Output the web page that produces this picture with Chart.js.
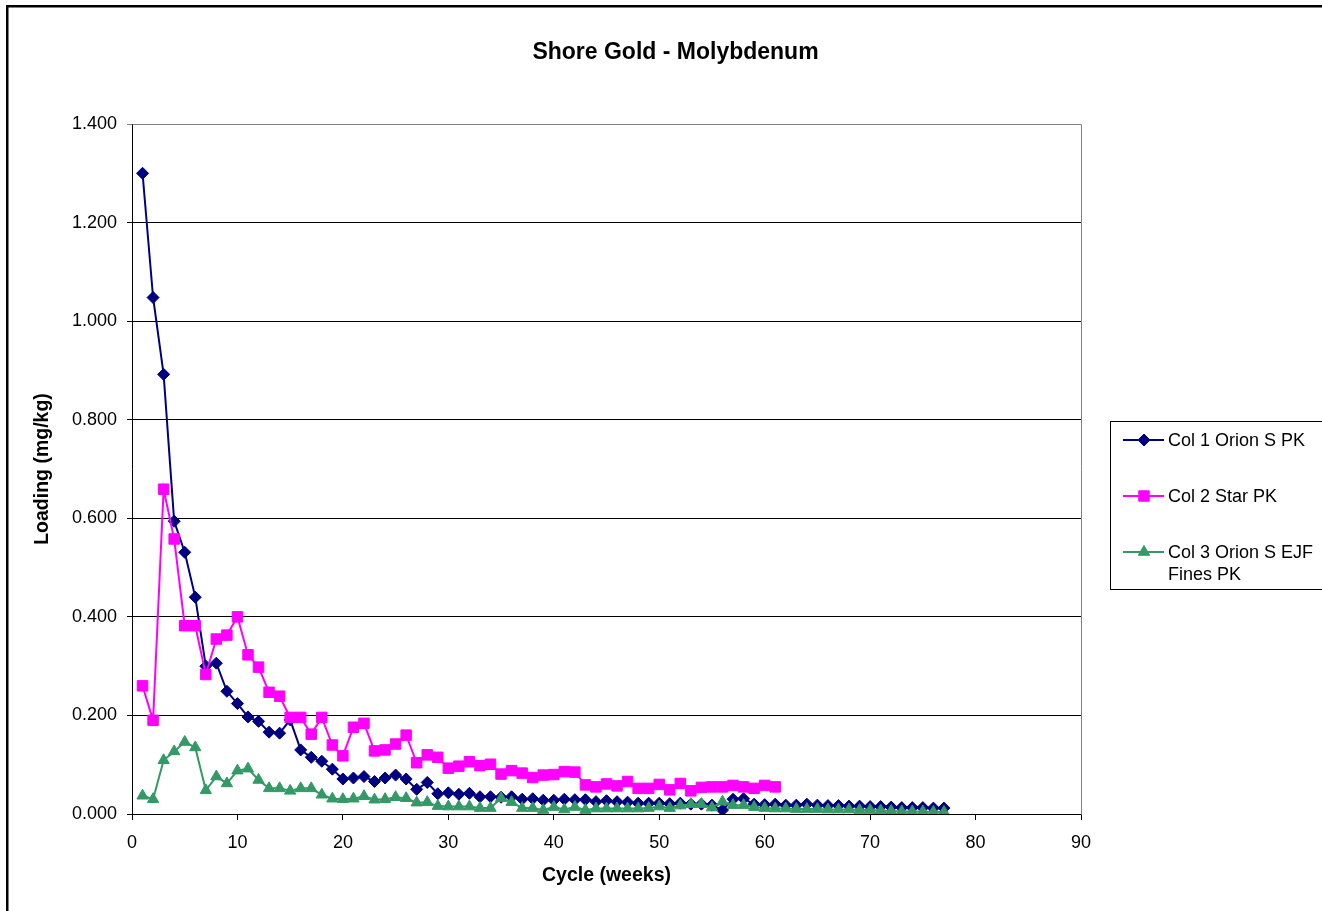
<!DOCTYPE html>
<html>
<head>
<meta charset="utf-8">
<style>
  html, body { margin: 0; padding: 0; background: #ffffff; }
  #wrap { position: relative; width: 1322px; height: 911px; }
  canvas { display: block; }
</style>
<script src="https://cdn.jsdelivr.net/npm/chart.js@4/dist/chart.umd.min.js"></script>
</head>
<body>
<div id="wrap"><canvas id="c" width="1322" height="911"></canvas></div>
<script>
const chartTitle = 'Shore Gold - Molybdenum';
const xTitle = 'Cycle (weeks)';
const yTitle = 'Loading (mg/kg)';
const seriesNames = ['Col 1 Orion S PK', 'Col 2 Star PK', 'Col 3 Orion S EJF Fines PK'];

const cycles = [1,2,3,4,5,6,7,8,9,10,11,12,13,14,15,16,17,18,19,20,
  21,22,23,24,25,26,27,28,29,30,31,32,33,34,35,36,37,38,39,40,
  41,42,43,44,45,46,47,48,49,50,51,52,53,54,55,56,57,58,59,60,
  61,62,63,64,65,66,67,68,69,70,71,72,73,74,75,76,77];

const col1Orion = [1.300,1.048,0.892,0.594,0.531,0.440,0.300,0.306,0.249,0.224,
  0.197,0.188,0.166,0.164,0.191,0.130,0.115,0.107,0.091,0.071,
  0.073,0.076,0.066,0.073,0.079,0.071,0.050,0.064,0.041,0.043,
  0.040,0.042,0.035,0.035,0.034,0.035,0.030,0.031,0.028,0.028,
  0.030,0.029,0.029,0.025,0.027,0.025,0.024,0.022,0.022,0.022,
  0.021,0.022,0.020,0.020,0.018,0.008,0.030,0.031,0.020,0.019,
  0.020,0.018,0.018,0.020,0.018,0.017,0.017,0.016,0.016,0.015,
  0.015,0.014,0.013,0.013,0.013,0.012,0.012];

const col2Star = [0.260,0.190,0.659,0.558,0.382,0.382,0.283,0.355,0.363,0.400,
  0.323,0.298,0.247,0.239,0.196,0.196,0.162,0.196,0.140,0.118,
  0.176,0.184,0.128,0.130,0.142,0.160,0.104,0.120,0.115,0.093,
  0.097,0.106,0.098,0.101,0.081,0.088,0.083,0.074,0.079,0.080,
  0.086,0.085,0.059,0.055,0.061,0.057,0.066,0.052,0.052,0.060,
  0.049,0.062,0.047,0.054,0.055,0.055,0.058,0.055,0.052,0.058,
  0.055];

const col3Fines = [0.037,0.030,0.109,0.127,0.146,0.135,0.048,0.076,0.062,0.088,
  0.092,0.069,0.052,0.052,0.047,0.052,0.052,0.039,0.031,0.030,
  0.031,0.036,0.029,0.030,0.034,0.032,0.023,0.024,0.016,0.015,
  0.015,0.015,0.012,0.012,0.032,0.024,0.012,0.012,0.008,0.014,
  0.009,0.014,0.008,0.011,0.011,0.011,0.011,0.011,0.012,0.015,
  0.012,0.017,0.020,0.020,0.013,0.025,0.018,0.018,0.014,0.012,
  0.011,0.011,0.010,0.010,0.010,0.009,0.009,0.009,0.008,0.008,
  0.007,0.006,0.005,0.005,0.005,0.004,0.004];

const xTicks = [0,10,20,30,40,50,60,70,80,90];
const yTicks = [0,0.2,0.4,0.6,0.8,1.0,1.2,1.4];

const colors = ['#000080', '#FF00FF', '#339966'];
const pointStyles = ['rectRot', 'rect', 'triangle'];
const pointRadii = [6, 7.4, 6.5];

function toPoints(values) {
  return values.map((v, i) => ({ x: cycles[i], y: v }));
}

const FONT = "'Liberation Sans', Arial, sans-serif";

function drawMarker(ctx, style, r, x, y) {
  if (style === 'rectRot') {
    ctx.moveTo(x, y - r); ctx.lineTo(x + r, y); ctx.lineTo(x, y + r); ctx.lineTo(x - r, y); ctx.closePath();
  } else if (style === 'rect') {
    const s = r * Math.SQRT1_2;
    ctx.rect(x - s, y - s, 2 * s, 2 * s);
  } else {
    ctx.moveTo(x, y - r);
    ctx.lineTo(x + r * Math.sin(2 * Math.PI / 3), y - r * Math.cos(2 * Math.PI / 3));
    ctx.lineTo(x + r * Math.sin(4 * Math.PI / 3), y - r * Math.cos(4 * Math.PI / 3));
    ctx.closePath();
  }
}

const framePlugin = {
  id: 'frame',
  beforeDraw(chart) {
    const ctx = chart.ctx;
    ctx.save();
    ctx.fillStyle = '#ffffff';
    ctx.fillRect(0, 0, chart.width, chart.height);
    ctx.restore();
  },
  afterDraw(chart) {
    const ctx = chart.ctx;
    const a = chart.chartArea;
    ctx.save();
    ctx.strokeStyle = '#808080';
    ctx.lineWidth = 1;
    ctx.beginPath();
    ctx.moveTo(Math.round(a.left) + 0.5, Math.round(a.top) + 0.5);
    ctx.lineTo(Math.round(a.right) + 0.5, Math.round(a.top) + 0.5);
    ctx.lineTo(Math.round(a.right) + 0.5, Math.round(a.bottom) + 0.5);
    ctx.stroke();
    ctx.strokeStyle = '#000000';
    ctx.lineWidth = 2.5;
    ctx.strokeRect(7.25, 6.25, 1400, 1000);
    ctx.fillStyle = '#000000';
    ctx.font = 'bold 23px ' + FONT;
    ctx.textAlign = 'center';
    ctx.textBaseline = 'middle';
    ctx.fillText(chartTitle, 675.5, 53);
    ctx.strokeStyle = '#000000';
    ctx.lineWidth = 1;
    ctx.strokeRect(1110.5, 421.5, 260, 168);
    const rows = [[440], [496], [552, 574]];
    const lines = [[seriesNames[0]], [seriesNames[1]], ['Col 3 Orion S EJF', 'Fines PK']];
    ctx.font = '18px ' + FONT;
    ctx.textAlign = 'left';
    for (let i = 0; i < 3; i++) {
      const y = rows[i][0];
      ctx.strokeStyle = colors[i];
      ctx.lineWidth = 2;
      ctx.beginPath();
      ctx.moveTo(1123, y);
      ctx.lineTo(1164, y);
      ctx.stroke();
      ctx.fillStyle = colors[i];
      ctx.lineWidth = 1;
      ctx.beginPath();
      drawMarker(ctx, pointStyles[i], pointRadii[i], 1144, y);
      ctx.fill();
      ctx.stroke();
      ctx.fillStyle = '#000000';
      for (let j = 0; j < lines[i].length; j++) {
        ctx.fillText(lines[i][j], 1168, rows[i][j] + 1);
      }
    }
    ctx.restore();
  }
};

const allSeries = [col1Orion, col2Star, col3Fines];
const datasets = allSeries.map((vals, i) => ({
  label: seriesNames[i],
  data: toPoints(vals),
  borderColor: colors[i],
  backgroundColor: colors[i],
  borderWidth: 2,
  pointStyle: pointStyles[i],
  pointRadius: pointRadii[i],
  pointHoverRadius: pointRadii[i],
  pointBorderWidth: 1,
  pointBorderColor: colors[i],
  pointBackgroundColor: colors[i],
  tension: 0,
  fill: false,
  order: 2 - i
}));

new Chart(document.getElementById('c'), {
  type: 'line',
  data: { datasets },
  options: {
    responsive: false,
    animation: false,
    devicePixelRatio: 1,
    layout: { padding: { left: 20, right: 241, top: 124, bottom: 0 } },
    plugins: {
      legend: { display: false },
      title: { display: false },
      tooltip: { enabled: false }
    },
    scales: {
      x: {
        type: 'linear',
        min: xTicks[0],
        max: xTicks[xTicks.length - 1],
        afterFit: s => { s.height = 97; },
        afterBuildTicks: s => { s.ticks = xTicks.map(v => ({ value: v })); },
        ticks: { color: '#000', font: { family: FONT, size: 18 }, padding: 12, maxRotation: 0,
                 callback: v => String(v) },
        grid: { display: true, drawOnChartArea: false, drawTicks: true, tickLength: 6, color: '#000' },
        border: { display: true, color: '#000', width: 1 },
        title: { display: true, text: xTitle, color: '#000',
                 font: { family: FONT, size: 19.5, weight: 'bold' }, padding: { top: 0, bottom: 24 } }
      },
      y: {
        type: 'linear',
        min: yTicks[0],
        max: yTicks[yTicks.length - 1],
        afterFit: s => { s.width = 112; },
        afterBuildTicks: s => { s.ticks = yTicks.map(v => ({ value: v })); },
        ticks: { color: '#000', font: { family: FONT, size: 18 }, padding: 10,
                 callback: v => Number(v).toFixed(3) },
        grid: { display: true, drawOnChartArea: true, drawTicks: true, tickLength: 5,
                color: ctx => (ctx.tick && Math.abs(ctx.tick.value - 1.4) < 1e-9) ? '#808080' : '#000' },
        border: { display: true, color: '#000', width: 1 },
        title: { display: true, text: yTitle, color: '#000',
                 font: { family: FONT, size: 19.5, weight: 'bold' }, padding: { top: 11, bottom: 0 } }
      }
    }
  },
  plugins: [framePlugin]
});
</script>
</body>
</html>
